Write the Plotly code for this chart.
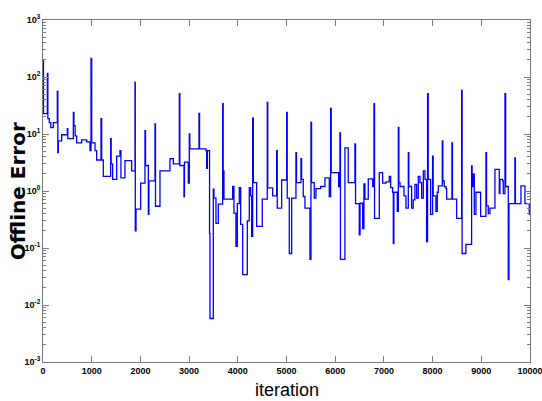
import plotly.graph_objects as go

# Offline error history: step changes of the error, listed as (iteration, value) pairs
iterations = [
    0, 10, 89, 100, 130, 160, 212, 280, 294, 305, 315, 383, 499, 510, 623, 635, 660, 691,
    794, 897, 965, 986, 1000, 1068, 1102, 1191, 1205, 1238, 1389, 1400, 1430, 1513, 1581,
    1600, 1683, 1821, 1889, 1895, 1910, 2005, 2094, 2105, 2163, 2175, 2300, 2310, 2402,
    2607, 2676, 2799, 2810, 2895, 2905, 2984, 3004, 3015, 3203, 3215, 3347, 3361, 3375,
    3420, 3429, 3497, 3511, 3552, 3600, 3689, 3700, 3716, 3894, 3921, 3962, 3990, 4031,
    4059, 4100, 4195, 4236, 4264, 4284, 4305, 4320, 4387, 4502, 4605, 4615, 4716, 4798,
    4810, 4900, 5003, 5015, 5057, 5106, 5194, 5205, 5297, 5310, 5344, 5379, 5482, 5502,
    5515, 5570, 5605, 5701, 5790, 5878, 5906, 5918, 6071, 6097, 6108, 6200, 6268, 6405,
    6418, 6494, 6510, 6563, 6590, 6611, 6679, 6769, 6796, 6808, 6905, 6974, 7042, 7110,
    7139, 7180, 7193, 7205, 7275, 7296, 7308, 7330, 7412, 7453, 7501, 7512, 7569, 7603,
    7637, 7672, 7706, 7740, 7775, 7809, 7843, 7877, 7897, 7910, 7959, 8000, 8012, 8068,
    8096, 8117, 8199, 8210, 8239, 8274, 8288, 8397, 8408, 8493, 8596, 8606, 8684, 8801,
    8812, 8835, 8856, 8890, 8986, 9095, 9108, 9143, 9177, 9280, 9369, 9383, 9438, 9451,
    9486, 9500, 9554, 9568, 9690, 9700, 9814, 9896, 9985, 10000,
]
offline_error = [
    195, 22.8, 116, 18.6, 15.8, 12.9, 15.8, 15.8, 55.7, 4.7, 7.6, 9.7, 12.4, 8.3, 24, 14, 9.3, 7.0,
    7.9, 7.3, 5.1, 213, 7.0, 5.1, 3.5, 18.6, 3.5, 1.8, 8.3, 3.0, 1.6, 4.1, 5.1,
    1.7, 3.4, 2.25, 80, 0.2, 0.48, 1.38, 11.4, 2.8, 0.39, 1.5, 15, 0.54, 2.25,
    3.7, 3.0, 51, 2.8, 0.8, 3.2, 1.38, 10, 5.5, 23, 5.5, 5.1, 2.5, 5.1,
    0.18, 0.0058, 1.08, 0.75, 0.27, 0.59, 34, 2.25, 0.72, 1.2, 0.41, 0.107, 0.6, 1.15,
    0.26, 0.034, 0.3, 1.15, 0.82, 0.16, 19, 1.4, 0.24, 0.72, 36, 1.13, 0.82, 5.1,
    0.5, 1.56, 24, 0.75, 0.08, 0.75, 4.7, 1.4, 3.7, 1.6, 0.8, 0.5, 0.063, 16,
    1.4, 0.75, 1.1, 1.2, 1.7, 0.8, 28, 2.1, 1.2, 10.5, 0.063, 5.7, 1.4, 6.7,
    0.6, 0.17, 0.61, 0.22, 1.33, 0.72, 1.63, 1.2, 34, 0.33, 2.1, 1.38, 1.45, 1.8,
    1.15, 0.95, 0.12, 0.95, 0.44, 13, 1.4, 1.2, 0.82, 0.5, 4.7, 1.2, 0.5, 0.7,
    1.3, 0.75, 1.8, 1.4, 0.75, 2.25, 1.6, 0.13, 51, 1.6, 0.39, 4.1, 0.82, 0.44,
    0.95, 1.23, 7.6, 1.5, 1.2, 1.1, 0.72, 7.0, 0.72, 0.33, 58, 0.08, 0.116, 2.76,
    1.2, 2.0, 0.39, 0.95, 0.36, 4.7, 0.55, 0.4, 0.5, 2.4, 0.9, 1.6, 1.5, 0.9,
    51, 1.2, 0.028, 0.6, 3.8, 0.6, 1.23, 0.6, 0.39, 0.39,
]

x_ticks = [0, 1000, 2000, 3000, 4000, 5000, 6000, 7000, 8000, 9000, 10000]
y_exponents = [-3, -2, -1, 0, 1, 2, 3]

tick_font = dict(family="Liberation Sans Narrow, Arial Narrow, Liberation Sans, sans-serif",
                 size=9, color="black", weight="bold")
axis_color = "#7a7a7a"

fig = go.Figure()
fig.add_trace(go.Scatter(
    x=iterations, y=offline_error, mode="lines", line_shape="hv",
    line=dict(color="#0000ff", width=1.3), showlegend=False,
))

fig.update_layout(
    width=542, height=401,
    margin=dict(l=43, r=12, t=20, b=39, autoexpand=False),
    paper_bgcolor="white", plot_bgcolor="white",
    xaxis=dict(
        range=[0, 10000], tickmode="array", tickvals=x_ticks,
        ticktext=[str(v) for v in x_ticks], ticklabeloverflow="allow", automargin=False,
        ticks="inside", ticklen=6, tickcolor=axis_color, tickwidth=1,
        showline=True, linecolor=axis_color, linewidth=1, mirror="ticks",
        showgrid=False, zeroline=False, tickfont=tick_font,
    ),
    yaxis=dict(
        type="log", range=[-3, 3], tickmode="array",
        tickvals=[10.0 ** e for e in y_exponents],
        ticktext=[f"10<sup>{e}</sup>" for e in y_exponents],
        ticks="inside", ticklen=6, tickcolor=axis_color, tickwidth=1,
        minor=dict(dtick="D1", ticks="inside", ticklen=3, tickcolor=axis_color, showgrid=False),
        showline=True, linecolor=axis_color, linewidth=1, mirror="ticks",
        showgrid=False, zeroline=False, tickfont=tick_font,
        ticklabeloverflow="allow", automargin=False,
    ),
    annotations=[
        dict(text="iteration", xref="paper", yref="paper", x=0.5, y=-0.048,
             xanchor="center", yanchor="top", showarrow=False,
             font=dict(family="Liberation Sans, Arial, sans-serif", size=18, color="black")),
        dict(text="<b>Offline Error</b>", xref="paper", yref="paper", x=-0.051, y=0.5,
             xanchor="center", yanchor="middle", textangle=-90, showarrow=False,
             font=dict(family="DejaVu Sans, sans-serif", size=20, color="black")),
    ],
)

fig.write_html("out.html")
